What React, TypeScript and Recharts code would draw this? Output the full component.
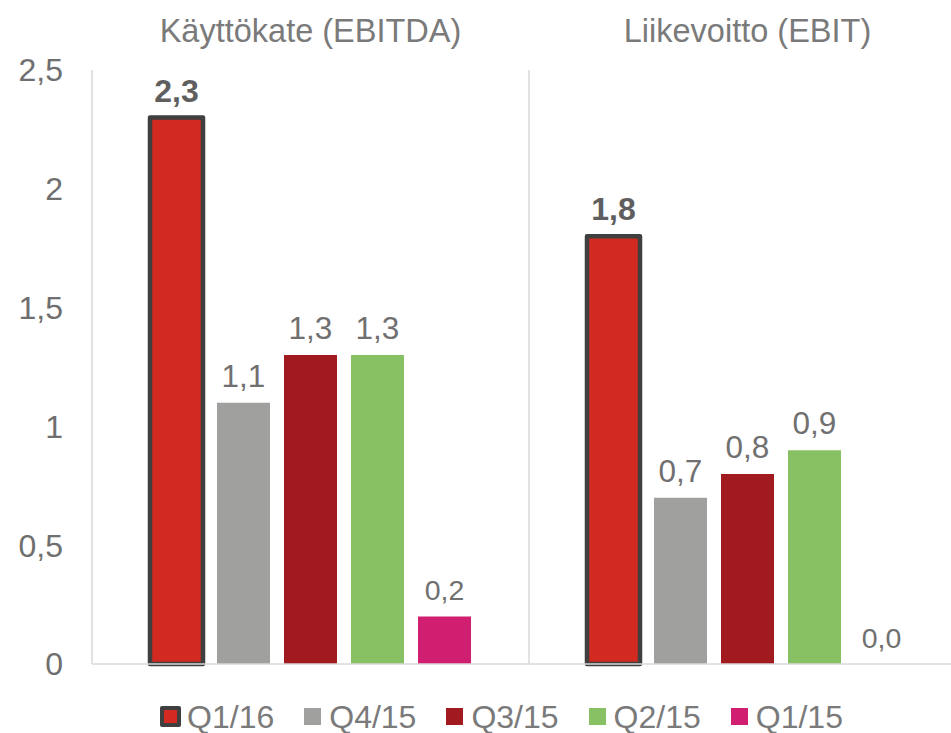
import React from 'react';
import { BarChart, Bar, XAxis, YAxis, CartesianGrid, LabelList, Legend, ReferenceLine } from 'recharts';

const categories = ['Käyttökate (EBITDA)', 'Liikevoitto (EBIT)'];
const seriesNames = ['Q1/16', 'Q4/15', 'Q3/15', 'Q2/15', 'Q1/15'];
const q1_16 = [2.3, 1.8];
const q4_15 = [1.1, 0.7];
const q3_15 = [1.3, 0.8];
const q2_15 = [1.3, 0.9];
const q1_15 = [0.2, 0.0];
const seriesValues = [q1_16, q4_15, q3_15, q2_15, q1_15];
const seriesColors = ['#D22A20', '#A0A19E', '#A01A20', '#88C064', '#D01F70'];
const labelSizes = [32, 31.5, 31.5, 31.5, 28.5];
const yTicks = [0, 0.5, 1, 1.5, 2, 2.5];

const data = categories.map((category, i) => {
  const row: Record<string, string | number> = { category };
  seriesNames.forEach((name, si) => {
    row[name] = seriesValues[si][i];
  });
  return row;
});

const fmtLabel = (v: any) => Number(v).toFixed(1).replace('.', ',');
const fmtTick = (v: any) => String(v).replace('.', ',');

const FONT = '"Liberation Sans", Arial, sans-serif';

const LegendContent = () => (
  <div
    style={{
      boxSizing: 'border-box',
      display: 'flex',
      justifyContent: 'center',
      alignItems: 'center',
      height: 69,
      paddingTop: 36,
      paddingLeft: 29,
      fontFamily: FONT,
      fontSize: 32,
      color: '#7a7a7a',
      lineHeight: '32px',
    }}
  >
    {seriesNames.map((name, si) => (
      <div key={name} style={{ display: 'flex', alignItems: 'center', height: 32, marginRight: si < seriesNames.length - 1 ? 30 : 0 }}>
        <span
          style={{
            display: 'inline-block',
            boxSizing: 'border-box',
            width: si === 0 ? 21 : 17,
            height: si === 0 ? 21 : 17,
            background: seriesColors[si],
            border: si === 0 ? '4px solid #3F3F3F' : 'none',
            borderRadius: si === 0 ? 2 : 0,
            marginRight: si === 0 ? 6 : 8,
          }}
        />
        <span>{name}</span>
      </div>
    ))}
  </div>
);

export default function App() {
  return (
    <div
      style={{
        position: 'fixed',
        top: 8,
        left: 8,
        width: 943,
        height: 725,
        overflow: 'hidden',
        fontFamily: FONT,
        background: '#ffffff',
      }}
    >
      <BarChart
        width={958}
        height={725}
        data={data}
        margin={{ top: 0, right: 0, left: 0, bottom: 0 }}
        barGap={14}
        style={{ fontFamily: FONT }}
      >
        <CartesianGrid
          horizontal={false}
          vertical={true}
          stroke="#d9d9d9"
          strokeWidth={1.5}
          verticalCoordinatesGenerator={(props: any) => {
            const o = props.offset;
            return [o.left + o.width / 2];
          }}
        />
        <XAxis
          dataKey="category"
          orientation="top"
          height={62}
          axisLine={false}
          tickLine={false}
          tickSize={0}
          tickMargin={28}
          tick={{ fontSize: 32.5, fill: '#7a7a7a' }}
          interval={0}
        />
        <YAxis
          width={84}
          domain={[0, 2.5]}
          ticks={yTicks}
          tickFormatter={fmtTick}
          axisLine={{ stroke: '#d9d9d9', strokeWidth: 1.5 }}
          tickLine={false}
          tickSize={0}
          tickMargin={29}
          tick={{ fontSize: 32, fill: '#6f6f6f' }}
          interval={0}
        />
        <ReferenceLine y={0} stroke="#d9d9d9" strokeWidth={1.5} />
        {seriesNames.map((name, si) => (
          <Bar
            key={name}
            dataKey={name}
            fill={seriesColors[si]}
            stroke={si === 0 ? '#3F3F3F' : 'none'}
            strokeWidth={si === 0 ? 4.5 : 0}
            strokeLinejoin="round"
            barSize={53}
            minPointSize={0.01}
            isAnimationActive={false}
          >
            <LabelList
              dataKey={name}
              position="top"
              offset={16}
              formatter={fmtLabel}
              fontSize={labelSizes[si]}
              fontWeight={si === 0 ? 'bold' : 'normal'}
              fill={si === 0 ? '#5f5f5f' : '#707070'}
            />
          </Bar>
        ))}
        <Legend verticalAlign="bottom" wrapperStyle={{ left: 0, width: 958 }} content={<LegendContent />} />
      </BarChart>
    </div>
  );
}
